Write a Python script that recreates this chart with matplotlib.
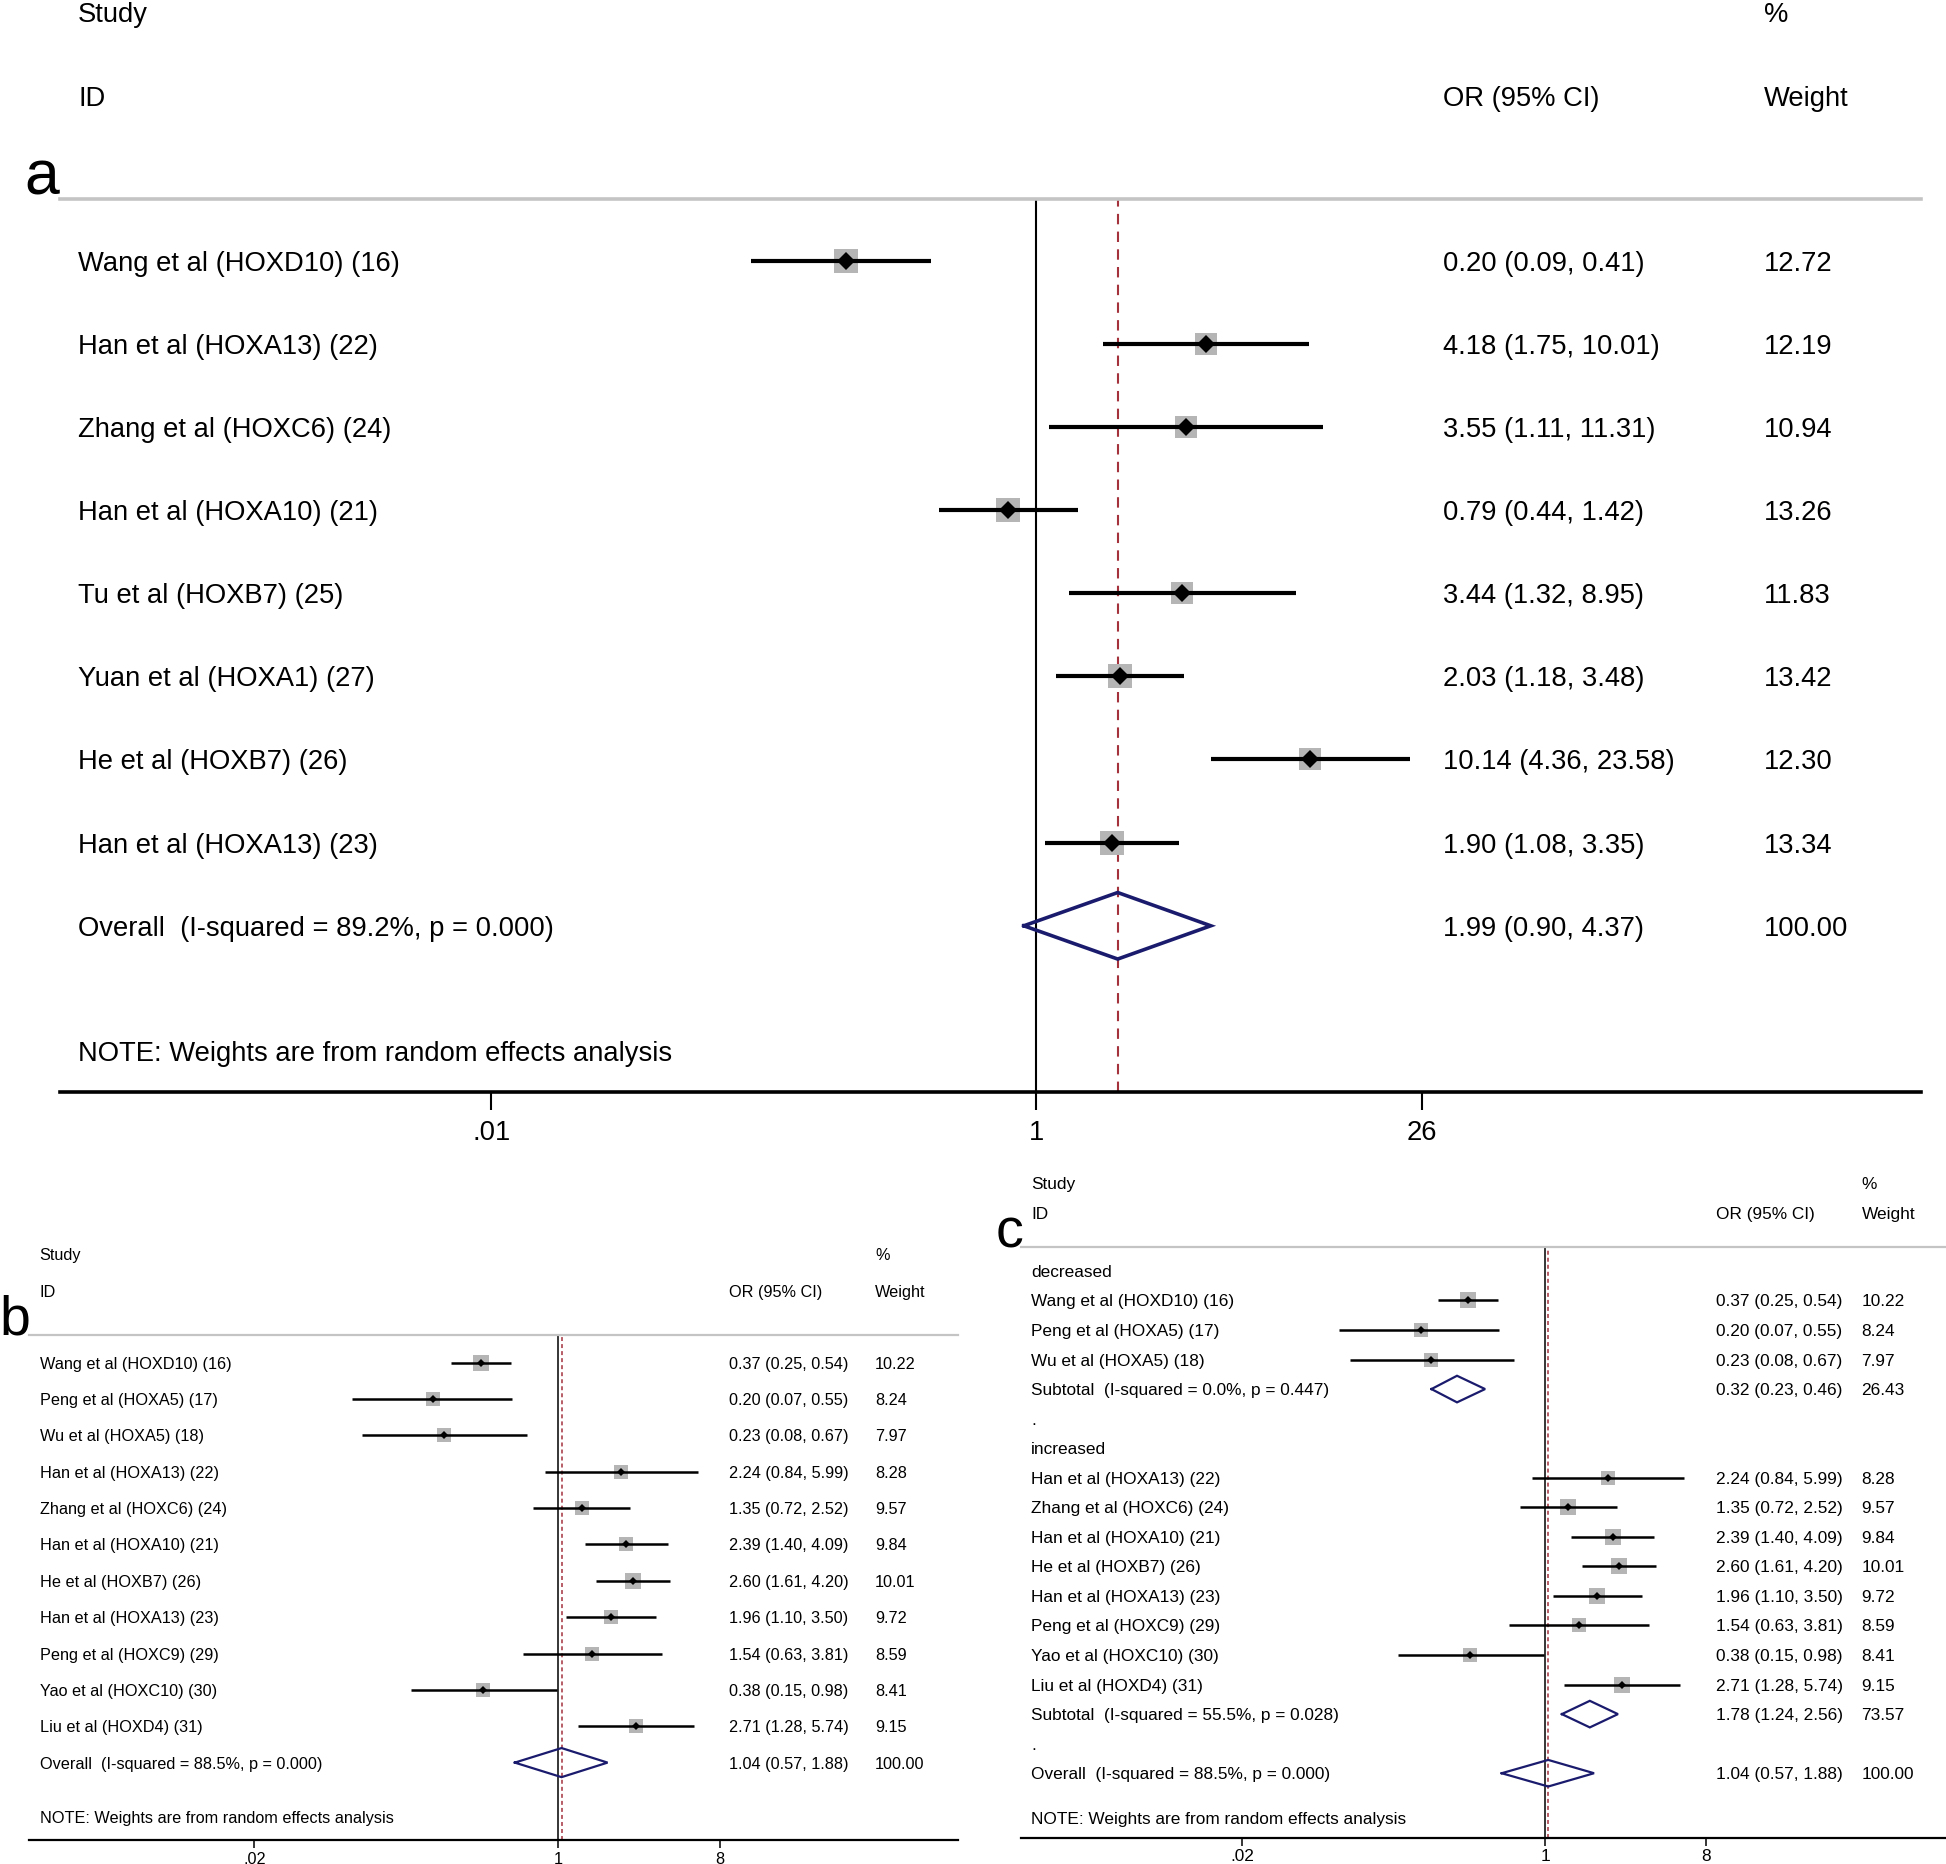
import numpy as np
import matplotlib.pyplot as plt
from matplotlib.transforms import blended_transform_factory
from matplotlib.ticker import NullLocator

plt.rcParams['font.family'] = ['Liberation Sans', 'DejaVu Sans']

# panel a data
a_study = ['Wang et al (HOXD10) (16)', 'Han et al (HOXA13) (22)', 'Zhang et al (HOXC6) (24)',
           'Han et al (HOXA10) (21)', 'Tu et al (HOXB7) (25)', 'Yuan et al (HOXA1) (27)',
           'He et al (HOXB7) (26)', 'Han et al (HOXA13) (23)']
a_or = [0.20, 4.18, 3.55, 0.79, 3.44, 2.03, 10.14, 1.90]
a_lo = [0.09, 1.75, 1.11, 0.44, 1.32, 1.18, 4.36, 1.08]
a_hi = [0.41, 10.01, 11.31, 1.42, 8.95, 3.48, 23.58, 3.35]
a_wt = [12.72, 12.19, 10.94, 13.26, 11.83, 13.42, 12.30, 13.34]
a_overall = [1.99, 0.90, 4.37]
a_overall_lbl = 'Overall  (I-squared = 89.2%, p = 0.000)'
a_ticks = [0.01, 1, 26]
a_ticklbl = ['.01', '1', '26']

# panels b and c data
bc_study = ['Wang et al (HOXD10) (16)', 'Peng et al (HOXA5) (17)', 'Wu et al (HOXA5) (18)',
            'Han et al (HOXA13) (22)', 'Zhang et al (HOXC6) (24)', 'Han et al (HOXA10) (21)',
            'He et al (HOXB7) (26)', 'Han et al (HOXA13) (23)', 'Peng et al (HOXC9) (29)',
            'Yao et al (HOXC10) (30)', 'Liu et al (HOXD4) (31)']
bc_or = [0.37, 0.20, 0.23, 2.24, 1.35, 2.39, 2.60, 1.96, 1.54, 0.38, 2.71]
bc_lo = [0.25, 0.07, 0.08, 0.84, 0.72, 1.40, 1.61, 1.10, 0.63, 0.15, 1.28]
bc_hi = [0.54, 0.55, 0.67, 5.99, 2.52, 4.09, 4.20, 3.50, 3.81, 0.98, 5.74]
bc_wt = [10.22, 8.24, 7.97, 8.28, 9.57, 9.84, 10.01, 9.72, 8.59, 8.41, 9.15]
bc_overall = [1.04, 0.57, 1.88]
bc_overall_lbl = 'Overall  (I-squared = 88.5%, p = 0.000)'
bc_ticks = [0.02, 1, 8]
bc_ticklbl = ['.02', '1', '8']

c_groups = ['decreased', 'increased']
c_members = [[0, 1, 2], [3, 4, 5, 6, 7, 8, 9, 10]]
c_sub = [[0.32, 0.23, 0.46], [1.78, 1.24, 2.56]]
c_sub_wt = [26.43, 73.57]
c_sub_lbl = ['Subtotal  (I-squared = 0.0%, p = 0.447)',
             'Subtotal  (I-squared = 55.5%, p = 0.028)']

note = 'NOTE: Weights are from random effects analysis'

NAVY = '#1b1b6e'
MAROON = '#a3323d'
BOXGRAY = '#b5b5b5'
LINEGRAY = '#c4c4c4'

W, H = 1568.0, 1502.0   # layout units of the reference
fig = plt.figure(figsize=(19.46, 18.64), dpi=100)


def ci_text(o, l, h):
    return f'{o:.2f} ({l:.2f}, {h:.2f})'


def setup(box, xlim, ylim, ticks, ticklbl, fs, est, lw_axis, lw_ref, dash, tlen, tpad):
    x0, x1, y0, y1 = box
    ax = fig.add_axes([x0 / W, 1 - y1 / H, (x1 - x0) / W, (y1 - y0) / H])
    ax.set_xscale('log')
    ax.set_xlim(*xlim)
    ax.set_ylim(*ylim)
    ax.patch.set_alpha(0)
    for s in ['left', 'right']:
        ax.spines[s].set_visible(False)
    ax.spines['top'].set_color(LINEGRAY)
    ax.spines['top'].set_linewidth(lw_axis)
    ax.spines['bottom'].set_linewidth(lw_axis)
    ax.set_yticks([])
    ax.set_xticks(ticks)
    ax.set_xticklabels(ticklbl)
    ax.xaxis.set_minor_locator(NullLocator())
    ax.tick_params(axis='x', length=tlen, width=lw_ref, pad=tpad, labelsize=fs)
    ax.axvline(1, color='black', lw=lw_ref, zorder=1)
    ax.axvline(est, color=MAROON, lw=lw_ref, ls=(0, dash), zorder=1)
    tr = blended_transform_factory(ax.transAxes, ax.transData)
    return ax, tr


def study(ax, y, o, l, h, w, k, lw, ms):
    ax.scatter([o], [y], s=(k * np.sqrt(w)) ** 2, marker='s', color=BOXGRAY,
               linewidths=0, zorder=2)
    ax.plot([l, h], [y, y], color='black', lw=lw, solid_capstyle='butt', zorder=3)
    ax.plot([o], [y], marker='D', color='black', ms=ms, mew=0, zorder=4)


def diamond(ax, y, o, l, h, hh, lw):
    ax.plot([l, o, h, o, l], [y, y - hh, y, y + hh, y], color=NAVY, lw=lw,
            solid_joinstyle='miter', zorder=5)


def row_text(tr, ax, y, cols, texts, fs):
    for c, t in zip(cols, texts):
        if t:
            ax.text(c, y, t, transform=tr, va='center_baseline', ha='left', fontsize=fs)


# ---------------- panel a ----------------
fs = 19.7
cols = (0.01, 0.7433, 0.9153)
ax, tr = setup((48, 1548, 160, 880), (2.6e-4, 1.77e3), (10.0, -0.746),
               a_ticks, a_ticklbl, fs, a_overall[0], 2.6, 1.5, (5, 3.5), 13, 7)
row_text(tr, ax, -2.985, cols, ['Study', '', '%'], fs)
row_text(tr, ax, -1.985, cols, ['ID', 'OR (95% CI)', 'Weight'], fs)
ax.text(-0.019, -0.79, 'a', transform=tr, fontsize=45, va='baseline', ha='left')
for i in range(len(a_study)):
    study(ax, i, a_or[i], a_lo[i], a_hi[i], a_wt[i], 4.7, 3.0, 9)
    row_text(tr, ax, i, cols, [a_study[i], ci_text(a_or[i], a_lo[i], a_hi[i]),
                               f'{a_wt[i]:.2f}'], fs)
yo = len(a_study)
diamond(ax, yo, *a_overall, 0.4, 2.6)
row_text(tr, ax, yo, cols, [a_overall_lbl, ci_text(*a_overall), '100.00'], fs)
row_text(tr, ax, yo + 1.51, cols, [note, '', ''], fs)

# ---------------- panel b ----------------
fs = 11.7
cols = (0.012, 0.753, 0.9105)
ax, tr = setup((23, 772, 1076, 1483), (1.094e-3, 170.9), (13.14, -0.75),
               bc_ticks, bc_ticklbl, fs, bc_overall[0], 1.6, 1.1, (2.6, 2.0), 6, 2)
row_text(tr, ax, -3.0, cols, ['Study', '', '%'], fs)
row_text(tr, ax, -1.98, cols, ['ID', 'OR (95% CI)', 'Weight'], fs)
ax.text(-0.031, -0.785, 'b', transform=tr, fontsize=40, va='baseline', ha='left')
for i in range(len(bc_study)):
    study(ax, i, bc_or[i], bc_lo[i], bc_hi[i], bc_wt[i], 3.42, 1.8, 4.5)
    row_text(tr, ax, i, cols, [bc_study[i], ci_text(bc_or[i], bc_lo[i], bc_hi[i]),
                               f'{bc_wt[i]:.2f}'], fs)
yo = len(bc_study)
diamond(ax, yo, *bc_overall, 0.4, 1.6)
row_text(tr, ax, yo, cols, [bc_overall_lbl, ci_text(*bc_overall), '100.00'], fs)
row_text(tr, ax, yo + 1.49, cols, [note, '', ''], fs)

# ---------------- panel c ----------------
fs = 12.4
cols = (0.0107, 0.7517, 0.9087)
ax, tr = setup((823, 1568, 1005, 1481), (1.15e-3, 177.5), (19.19, -0.8),
               bc_ticks, bc_ticklbl, fs, bc_overall[0], 1.6, 1.1, (2.6, 2.0), 6, 2)
row_text(tr, ax, -2.98, cols, ['Study', '', '%'], fs)
row_text(tr, ax, -1.97, cols, ['ID', 'OR (95% CI)', 'Weight'], fs)
ax.text(-0.028, -0.8, 'c', transform=tr, fontsize=40, va='baseline', ha='left')
y = 0
for g in range(len(c_groups)):
    row_text(tr, ax, y, cols, [c_groups[g], '', ''], fs)
    y += 1
    for i in c_members[g]:
        study(ax, y, bc_or[i], bc_lo[i], bc_hi[i], bc_wt[i], 3.6, 1.8, 4.5)
        row_text(tr, ax, y, cols, [bc_study[i], ci_text(bc_or[i], bc_lo[i], bc_hi[i]),
                                   f'{bc_wt[i]:.2f}'], fs)
        y += 1
    diamond(ax, y, *c_sub[g], 0.45, 1.6)
    row_text(tr, ax, y, cols, [c_sub_lbl[g], ci_text(*c_sub[g]), f'{c_sub_wt[g]:.2f}'], fs)
    y += 1
    row_text(tr, ax, y, cols, ['.', '', ''], fs)
    y += 1
diamond(ax, y, *bc_overall, 0.45, 1.6)
row_text(tr, ax, y, cols, [bc_overall_lbl, ci_text(*bc_overall), '100.00'], fs)
row_text(tr, ax, y + 1.5, cols, [note, '', ''], fs)

fig.savefig('out.png', dpi=100)
